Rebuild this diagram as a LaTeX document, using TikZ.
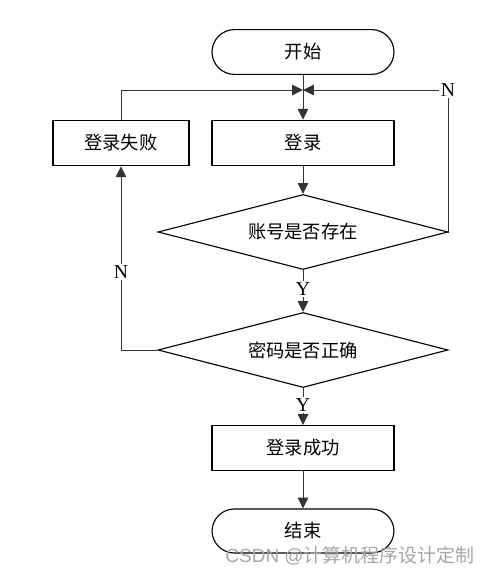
\documentclass[tikz,border=0pt]{standalone}
\usepackage{fontspec}
\setmainfont{Liberation Serif}
\newfontfamily\cjk{Noto Sans CJK SC}[BoldFont={Noto Sans CJK SC}]
\usetikzlibrary{shapes.geometric,arrows.meta}

\tikzset{
  process/.style={draw, black, line width=0.8pt, minimum width=4.55cm, minimum height=1.14cm, font=\cjk\fontsize{13}{15}\selectfont},
  terminal/.style={process, rounded corners=0.56cm, minimum height=1.12cm},
  decision/.style={draw, black, line width=0.8pt, diamond, aspect=3.87, minimum width=7.25cm, minimum height=1.875cm, inner sep=0pt, font=\cjk\fontsize{13}{15}\selectfont},
  yn/.style={inner sep=1pt, font=\fontsize{14}{16}\selectfont},
  arr/.style={black!80, line width=0.7pt, -{Triangle[length=0.27cm,width=0.26cm]}},
  line/.style={black!80, line width=0.7pt}
}

\begin{document}
\begin{tikzpicture}

\useasboundingbox (0,0) rectangle (12.25,14.45);

   \node (start) at (7.575, 13.15)[terminal]{开始};
   \node (login) at (7.575, 10.875)[process]{登录};
   \node (fail) at (3.025, 10.875)[process, minimum width=3.4cm]{登录失败};
   \node (user) at (7.575, 8.65)[decision]{账号是否存在};
   \node (pass) at (7.575, 5.7)[decision]{密码是否正确};
   \node (ok) at (7.575, 3.25)[process, minimum height=1.12cm]{登录成功};
   \node (stop) at (7.575, 1.175)[terminal, minimum height=1.1cm]{结束};

   \coordinate (join) at (7.575, 12.2);

 \node (nR) at (11.2, 12.2)[yn]{N};
 \node (nL) at (3.025, 7.65)[yn]{N};
 \node (y1) at (7.575, 7.225)[yn]{Y};
 \node (y2) at (7.575, 4.325)[yn]{Y};

\draw[arr] (start) -- (login);
\draw[arr] (fail.north) |- (join);
\draw[line] (user.east) -| (nR.south);
\draw[arr] (nR.west) -- (join);
\draw[arr] (login) -- (user);
\draw[line] (user.south) -- (y1);
\draw[arr] (y1) -- (pass.north);
\draw[line] (pass.west) -| (nL.south);
\draw[arr] (nL) -- (fail);
\draw[line] (pass.south) -- (y2);
\draw[arr] (y2) -- (ok);
\draw[arr] (ok) -- (stop);

  \node (mark) at (8.75, 0.55)[text=black!35, font=\fontsize{13.5}{15}\selectfont]{\fontspec{Liberation Sans}CSDN @\cjk 计算机程序设计定制};

    \end{tikzpicture}
\end{document}
